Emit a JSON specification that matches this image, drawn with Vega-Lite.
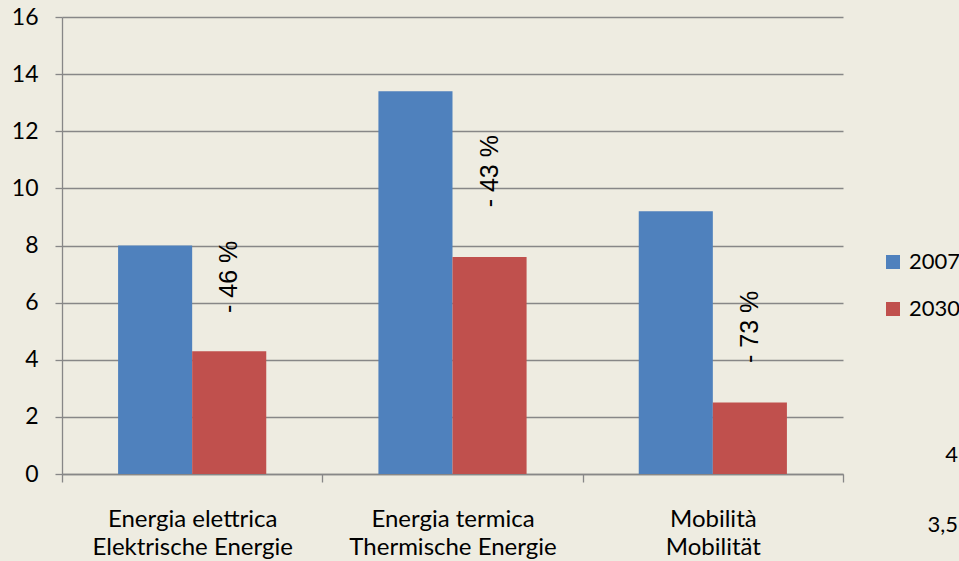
{
  "$schema": "https://vega.github.io/schema/vega-lite/v6.json",
  "width": 781,
  "height": 457,
  "autosize": "none",
  "padding": {"left": 62, "top": 17, "right": 116, "bottom": 87},
  "background": "#EEECE1",
  "config": {"view": {"stroke": null}, "font": "Lato"},
  "datasets": {
    "bars": [
      {"cat": "Energia elettrica|Elektrische Energie", "year": "2007", "value": 8.0},
      {"cat": "Energia elettrica|Elektrische Energie", "year": "2030", "value": 4.3},
      {"cat": "Energia termica|Thermische Energie", "year": "2007", "value": 13.4},
      {"cat": "Energia termica|Thermische Energie", "year": "2030", "value": 7.6},
      {"cat": "Mobilità|Mobilität", "year": "2007", "value": 9.2},
      {"cat": "Mobilità|Mobilität", "year": "2030", "value": 2.5}
    ],
    "labels": [
      {"cat": "Energia elettrica|Elektrische Energie", "year": "2030", "pos": 6.9, "text": "- 46 %"},
      {"cat": "Energia termica|Thermische Energie", "year": "2030", "pos": 10.6, "text": "- 43 %"},
      {"cat": "Mobilità|Mobilität", "year": "2030", "pos": 5.15, "text": "- 73 %"}
    ],
    "stray": [
      {"t": "4", "px": 1.1473, "py": 0.665},
      {"t": "3,5", "px": 1.1473, "py": -1.786}
    ]
  },
  "layer": [
    {
      "layer": [
        {
          "data": {"name": "bars"},
          "mark": {"type": "bar"},
          "encoding": {
            "x": {
              "field": "cat", "type": "nominal", "sort": null,
              "scale": {"paddingInner": 0, "paddingOuter": 0},
              "axis": {
                "title": null, "tickBand": "extent", "labelAngle": 0,
                "domainColor": "#878787", "domainWidth": 1.3,
                "tickColor": "#878787", "tickWidth": 1.3, "tickSize": 8,
                "labelFontSize": 24, "labelLineHeight": 28, "labelPadding": 25,
                "labelLimit": 0,
                "labelColor": "#000000", "labelFont": "Lato",
                "labelExpr": "split(datum.label, '|')"
              }
            },
            "xOffset": {
              "field": "year", "type": "nominal",
              "scale": {"paddingInner": 0, "paddingOuter": 0.757}
            },
            "y": {
              "field": "value", "type": "quantitative",
              "scale": {"domain": [0, 16], "nice": false},
              "axis": {
                "title": null, "values": [0, 2, 4, 6, 8, 10, 12, 14, 16],
                "grid": true, "gridColor": "#878787", "gridWidth": 1.3,
                "domainColor": "#878787", "domainWidth": 1.3,
                "tickColor": "#878787", "tickWidth": 1.3, "tickSize": 7,
                "labelPadding": 17, "labelFontSize": 23, "labelColor": "#000000",
                "labelFont": "Lato"
              }
            },
            "color": {
              "field": "year", "type": "nominal",
              "scale": {"range": ["#4F81BD", "#C0504D"]},
              "legend": {
                "title": null, "orient": "none", "legendX": 820, "legendY": 234,
                "symbolType": "square", "symbolSize": 196, "symbolStrokeWidth": 0,
                "labelFontSize": 22, "labelColor": "#000000", "labelFont": "Lato",
                "rowPadding": 25, "labelOffset": 5, "labelLimit": 0
              }
            }
          }
        },
        {
          "data": {"name": "labels"},
          "mark": {"type": "text", "angle": 270, "align": "center", "baseline": "middle", "font": "Liberation Sans", "fontSize": 25, "color": "#000000"},
          "encoding": {
            "x": {"field": "cat", "type": "nominal", "sort": null},
            "xOffset": {"field": "year", "type": "nominal"},
            "y": {"field": "pos", "type": "quantitative"},
            "text": {"field": "text"}
          }
        }
      ]
    },
    {
      "data": {"name": "stray"},
      "mark": {"type": "text", "align": "right", "baseline": "middle", "fontSize": 22, "font": "Lato", "color": "#000000"},
      "encoding": {
        "x": {"field": "px", "type": "quantitative", "scale": {"domain": [0, 1], "nice": false, "zero": false}, "axis": null},
        "y": {"field": "py", "type": "quantitative"},
        "text": {"field": "t"}
      }
    }
  ],
  "resolve": {"scale": {"x": "independent"}, "axis": {"x": "independent"}}
}
